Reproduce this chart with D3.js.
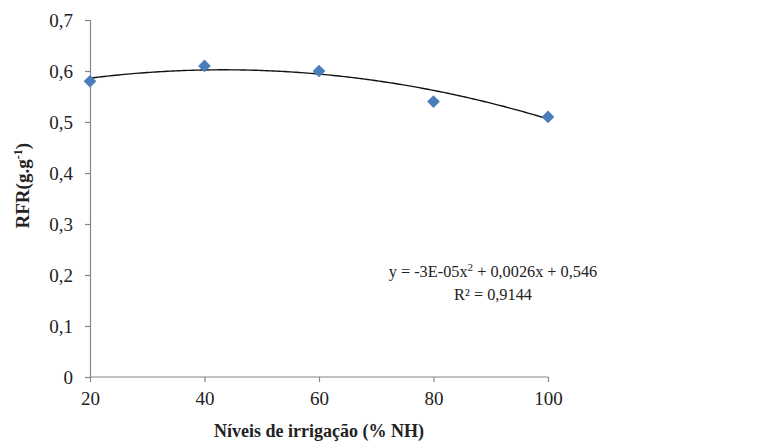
<!DOCTYPE html>
<html>
<head>
<meta charset="utf-8">
<script src="https://cdn.jsdelivr.net/npm/d3@7"></script>
<style>
  body { margin: 0; background: #fff; }
  svg { display: block; }
  text { font-family: "Liberation Serif", "Times New Roman", serif; fill: #222; }
</style>
</head>
<body>
<svg id="chart" width="757" height="448"></svg>
<script>
// Irrigation levels (% NH) and measured RFR values
const levels = [20, 40, 60, 80, 100];
const rfr = [0.58, 0.61, 0.60, 0.54, 0.51];
const xTicks = [20, 40, 60, 80, 100];
const yTicks = [0, 0.1, 0.2, 0.3, 0.4, 0.5, 0.6, 0.7];
// Polynomial trendline coefficients: y = a x^2 + b x + c
const trendCoef = [-3e-5, 0.0026, 0.546];
const r2Label = "R² = 0,9144";

const svg = d3.select("#chart");
const margin = { left: 90, right: 209, top: 20, bottom: 71 };
const W = 757, H = 448;

const x = d3.scaleLinear().domain([20, 100]).range([margin.left, W - margin.right]);
const y = d3.scaleLinear().domain([0, 0.7]).range([H - margin.bottom, margin.top]);
const fmt = d => d === 0 ? "0" : d3.format(".1f")(d).replace(".", ",");

// Y axis
const yAxis = svg.append("g")
  .attr("transform", `translate(${margin.left},0)`)
  .call(d3.axisLeft(y).tickValues(yTicks).tickSize(5).tickPadding(12).tickFormat(fmt));
// X axis
const xAxis = svg.append("g")
  .attr("transform", `translate(0,${y(0)})`)
  .call(d3.axisBottom(x).tickValues(xTicks).tickSize(5).tickPadding(10));

[yAxis, xAxis].forEach(g => {
  g.attr("font-family", null);
  g.select(".domain").attr("stroke", "#868686").attr("stroke-width", 1.2);
  g.selectAll(".tick line").attr("stroke", "#868686").attr("stroke-width", 1.2);
  g.selectAll(".tick text")
    .style("font-family", '"Liberation Serif", "Times New Roman", serif')
    .style("font-size", "19px").attr("fill", "#333");
});
xAxis.select(".domain").attr("d", `M${x(20)},0H${x(100)}`);

// Trendline
const [a, b, c] = trendCoef;
const curve = d3.range(20, 100.01, 0.5).map(v => [v, a * v * v + b * v + c]);
svg.append("path")
  .datum(curve)
  .attr("fill", "none")
  .attr("stroke", "#111")
  .attr("stroke-width", 1.4)
  .attr("d", d3.line().x(d => x(d[0])).y(d => y(d[1])));

// Markers: squares turned 45 degrees
svg.append("g").selectAll("path")
  .data(levels.map((v, i) => [v, rfr[i]]))
  .join("path")
  .attr("transform", d => `translate(${x(d[0])},${y(d[1])}) rotate(45)`)
  .attr("d", d3.symbol(d3.symbolSquare, 80)())
  .attr("fill", "#4a7ebb");

// Equation
const eq = svg.append("text")
  .attr("x", 493).attr("y", 277)
  .attr("text-anchor", "middle")
  .style("font-size", "16.3px");
eq.append("tspan").text("y = -3E-05x");
eq.append("tspan").attr("dy", -6).style("font-size", "11px").text("2");
eq.append("tspan").attr("dy", 6).text(" + 0,0026x + 0,546");
svg.append("text")
  .attr("x", 493).attr("y", 300)
  .attr("text-anchor", "middle")
  .style("font-size", "16.3px")
  .text(r2Label);

// Axis titles
svg.append("text")
  .attr("x", x(60)).attr("y", 437)
  .attr("text-anchor", "middle")
  .style("font-size", "18px").style("font-weight", "bold")
  .text("Níveis de irrigação (% NH)");

const yt = svg.append("text")
  .attr("transform", `translate(29,${y(0.375)}) rotate(-90)`)
  .attr("text-anchor", "middle")
  .style("font-size", "19px").style("font-weight", "bold");
yt.append("tspan").text("RFR(g.g");
yt.append("tspan").attr("dy", -7).style("font-size", "12px").text("-1");
yt.append("tspan").attr("dy", 7).text(")");
</script>
</body>
</html>
